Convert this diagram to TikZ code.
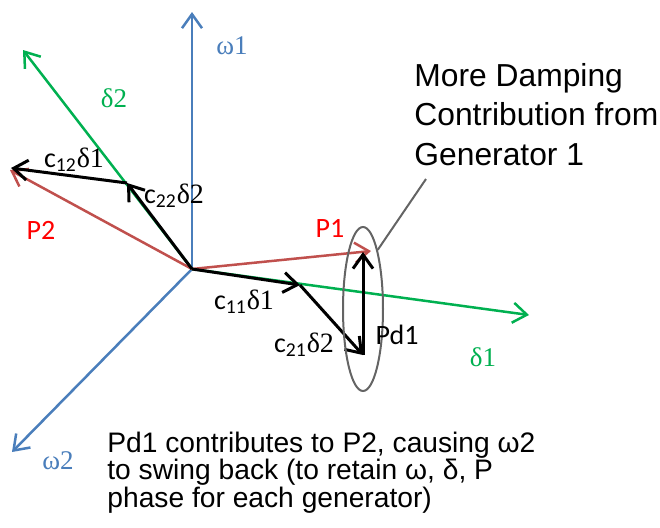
\documentclass[tikz,border=0pt]{standalone}
\usepackage{fontspec}
\setmainfont{Liberation Sans}
\newfontfamily\calif{Carlito}
\newfontfamily\timesf{Liberation Serif}
\usetikzlibrary{arrows.meta,shapes.geometric}
\definecolor{axisBlue}{RGB}{74,126,187}
\definecolor{axisGreen}{RGB}{0,176,80}
\definecolor{powRed}{RGB}{192,80,77}
\definecolor{ringGray}{RGB}{100,100,100}
\newcommand{\cdelta}[2]{{\calif c\textsubscript{#1}}{\timesf δ#2}}

\begin{document}
\begin{tikzpicture}[x=0.5pt,y=-0.5pt,
    vec/.style={line width=1.25pt,-{Straight Barb[length=7pt,width=10pt]}},
    comp/.style={vec,line width=1.5pt,black},
    greek/.style={font=\timesf\fontsize{13.5}{15}\selectfont},
    cal/.style={font=\calif\fontsize{14}{15}\selectfont},
    note/.style={align=left,anchor=base west,inner sep=0pt}]
  \useasboundingbox (0,0) rectangle (660,527);
  % axes and phasors
  \coordinate (o) at (192,269);
  \coordinate (w1) at (192,12);
  \coordinate (w2) at (12,452);
  \coordinate (d1) at (529,315);
  \coordinate (d2) at (23,50);
  \coordinate (p1) at (371,251);
  \coordinate (p2) at (10,170);
  \coordinate (c11) at (300,285);
  \coordinate (c21) at (363,355);
  \coordinate (c22) at (127,183);
  \coordinate (c12) at (11,168);
  \coordinate (pd1) at (363,252);
  \coordinate (callout) at (426,179);

  \draw[vec,axisBlue] (o) -- (w1);
  \draw[vec,axisBlue] (o) -- (w2);
  \draw[vec,axisGreen] (o) -- (d1);
  \draw[vec,axisGreen] (o) -- (d2);
  \draw[vec,powRed] (o) -- (p1);
  \draw[vec,powRed] (o) -- (p2);

  \draw[comp] (o) -- (c11);
  \draw[comp] (c11) -- (c21);
  \draw[comp] (c21) -- (pd1);
  \draw[comp] (o) -- (c22);
  \draw[comp] (c22) -- (c12);

  % damping ring and callout
  \node[draw=ringGray,line width=1pt,ellipse,minimum width=20pt,minimum height=82pt,inner sep=0pt] (ring) at (363,309) {};
  \draw[ringGray,line width=1pt] (ring.76) -- (callout);

  % labels
  \node[greek,text=axisBlue] (lw1) at (232,46) {ω1};
  \node[greek,text=axisBlue] (lw2) at (58,461) {ω2};
  \node[greek,text=axisGreen] (ld1) at (483,357) {δ1};
  \node[greek,text=axisGreen] (ld2) at (114,98) {δ2};
  \node[cal,text=red] (lp1) at (330,228) {P1};
  \node[cal,text=red] (lp2) at (41,230) {P2};
  \node[cal] (lc11) at (244,302) {\cdelta{11}{1}};
  \node[cal] (lc21) at (304,345) {\cdelta{21}{2}};
  \node[cal] (lc12) at (74,160) {\cdelta{12}{1}};
  \node[cal] (lc22) at (174,196) {\cdelta{22}{2}};
  \node[cal] (lpd1) at (397,335) {Pd1};

  \node[note,font=\fontsize{15.9}{19.75}\selectfont] (more) at (414,165)
    {More Damping\\Contribution from\\Generator 1};
  \node[note,font=\fontsize{14.1}{13.55}\selectfont] (why) at (107,507)
    {Pd1 contributes to P2, causing ω2\\to swing back (to retain ω, δ, P\\phase for each generator)};
\end{tikzpicture}
\end{document}
